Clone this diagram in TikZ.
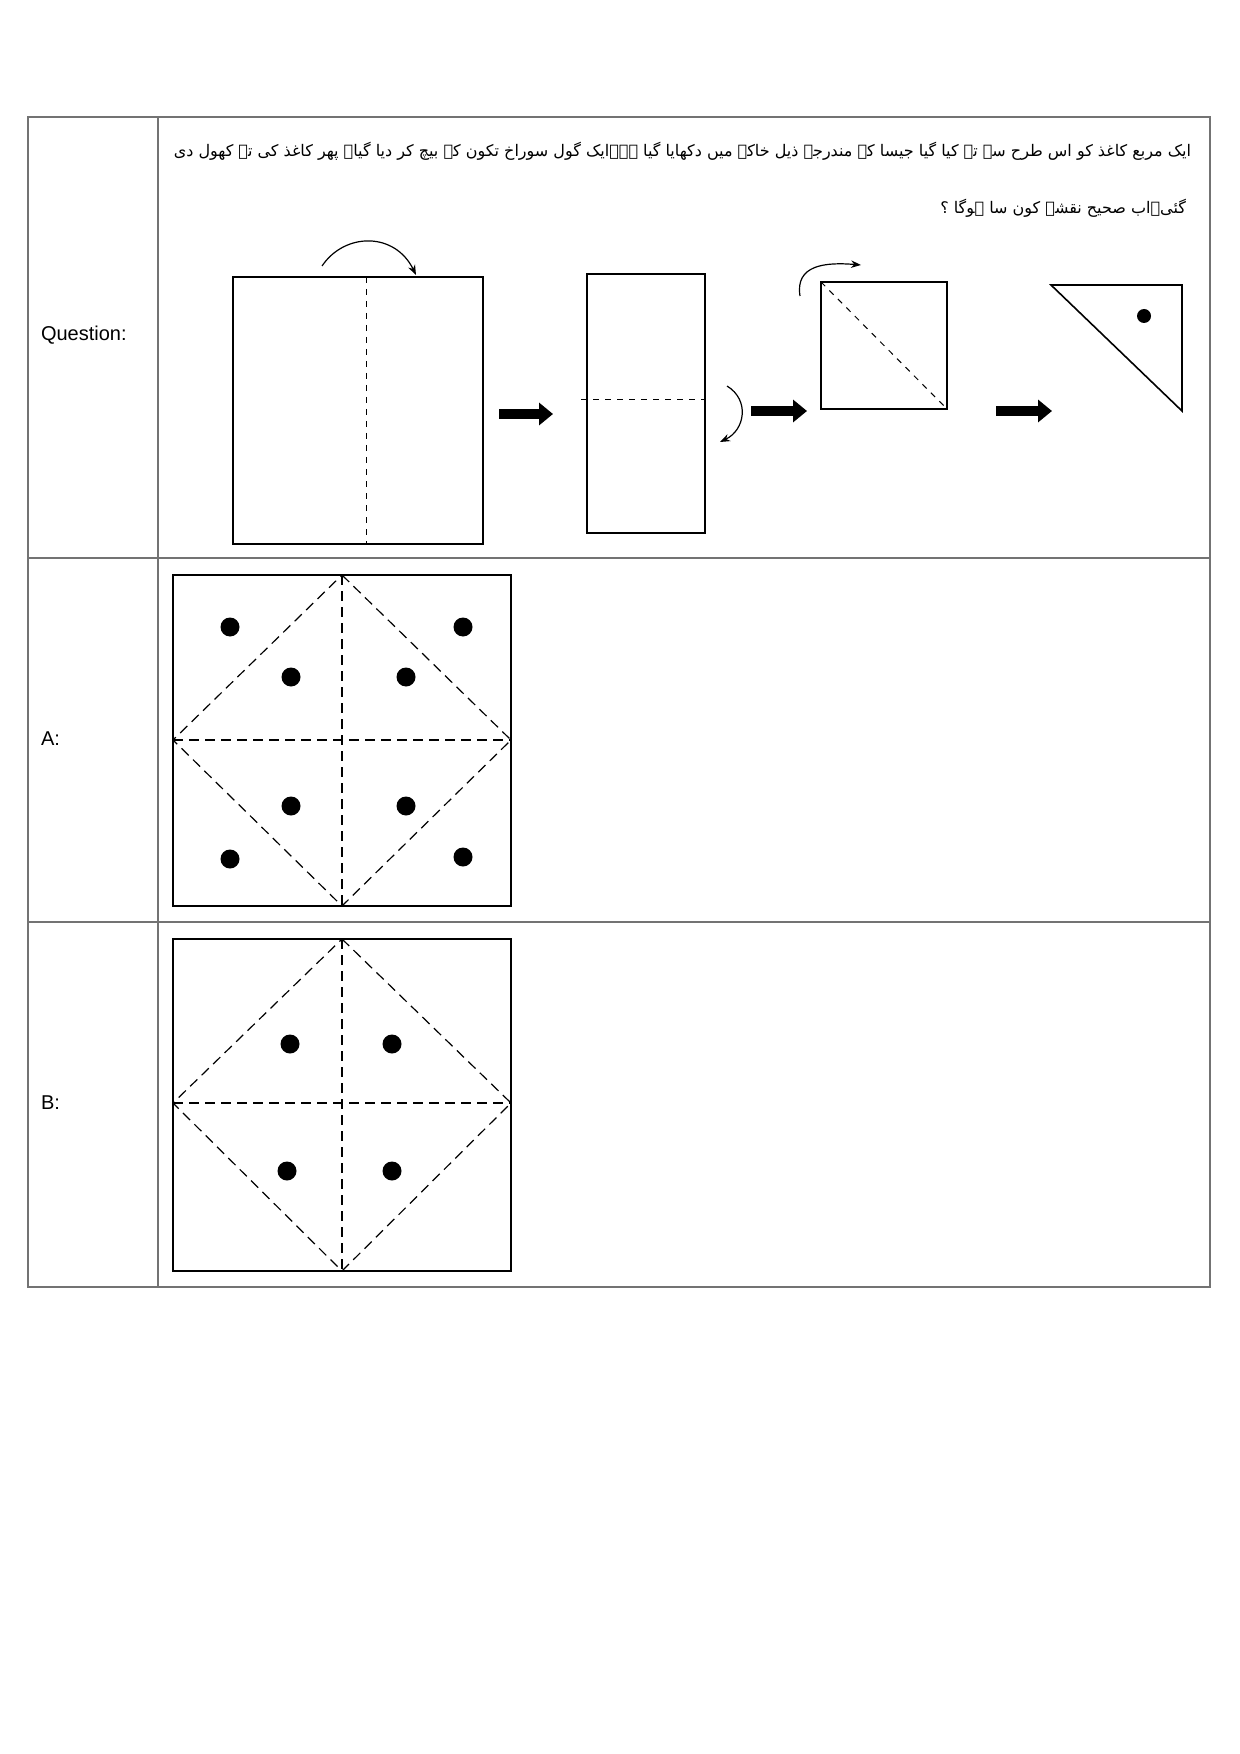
\documentclass[tikz,border=0pt]{standalone}
\usepackage{fontspec}
\setmainfont{Liberation Sans}
\newfontfamily\urdu[Script=Arabic]{DejaVu Sans}
\TeXXeTstate=1
\usetikzlibrary{arrows.meta}
\begin{document}
\begin{tikzpicture}[x=0.5pt,y=-0.5pt,
 grid/.style={draw=black!55,line width=0.6pt},
 fold/.style={dashed,line width=0.5pt},
 bigdash/.style={dash pattern=on 5pt off 3pt,line width=0.9pt},
 thinbox/.style={line width=0.6pt},
 dot/.style={circle,fill=black,inner sep=0pt,minimum size=9.5pt},
 fat/.style={line width=5pt,-{Triangle[length=7pt,width=11pt]}},
 lab/.style={anchor=west,font=\fontsize{10}{12}\selectfont},
 ur/.style={anchor=east,font=\urdu\fontsize{8}{10}\selectfont}]
\useasboundingbox (0,0) rectangle (1240,1754);
% table
\draw[grid] (28,117) rectangle (1210,1287);
\draw[grid] (158,117) -- (158,1287);
\draw[grid] (28,558) -- (1210,558);
\draw[grid] (28,922) -- (1210,922);
\node[lab] (lq) at (34,335) {Question:};
\node[lab] (la) at (34,739) {A:};
\node[lab] (lb) at (34,1103) {B:};
% Urdu text
\node[ur] (t1) at (1198,151) {\beginR ایک  مربع کاغذ کو اس طرح سے تہ کیا گیا جیسا کہ مندرجہ ذیل خاکے میں دکھایا گیا ہے۔ایک گول سوراخ تکون کے بیچ کر دیا گیا۔ پھر کاغذ کی تہ کھول دی\endR};
\node[ur] (t2) at (1193,208) {\beginR گئی۔اب صحیح نقشہ کون سا ہوگا ؟\endR};
% step 1
\draw[thinbox] (233,277) rectangle (483,544);
\draw[fold] (366,277) -- (366,544);
\coordinate (a1s) at (322,266); \coordinate (a1e) at (416,275);
\draw[-{Stealth[length=5pt]},line width=0.6pt] (a1s) .. controls (345,232) and (395,232) .. (a1e);
\coordinate (f1s) at (499,414); \coordinate (f1e) at (553,414);
\draw[fat] (f1s) -- (f1e);
% step 2
\draw[thinbox] (587,274) rectangle (705,533);
\draw[fold] (581,400) -- (705,400);
\coordinate (a2s) at (727,386); \coordinate (a2e) at (720,442);
\draw[-{Stealth[length=5pt]},line width=0.6pt] (a2s) .. controls (750,400) and (745,430) .. (a2e);
\coordinate (f2s) at (751,411); \coordinate (f2e) at (807,411);
\draw[fat] (f2s) -- (f2e);
% step 3
\draw[thinbox] (821,282) rectangle (947,409);
\draw[fold] (821,282) -- (947,409);
\coordinate (a3s) at (800,296); \coordinate (a3e) at (861,265);
\draw[-{Stealth[length=5pt]},line width=0.6pt] (a3s) .. controls (795,265) and (825,262) .. (a3e);
\coordinate (f3s) at (996,411); \coordinate (f3e) at (1052,411);
\draw[fat] (f3s) -- (f3e);
% step 4
\draw[line width=0.8pt] (1051,285) -- (1182,285) -- (1182,411) -- cycle;
\node[dot,minimum size=7pt] (hole) at (1144,316) {};
% option A
\draw[line width=1.2pt] (173,575) rectangle (511,906);
\draw[bigdash] (342,575) -- (342,906) (173,740) -- (511,740);
\draw[bigdash,line width=0.6pt] (342,575) -- (511,740) -- (342,906) -- (173,740) -- cycle;
\foreach \p/\n in {{230,627}/a1,{463,627}/a2,{291,677}/a3,{406,677}/a4,{291,806}/a5,{406,806}/a6,{230,859}/a7,{463,857}/a8}
  \node[dot] (\n) at (\p) {};
% option B
\draw[line width=1.2pt] (173,939) rectangle (511,1271);
\draw[bigdash] (342,939) -- (342,1271) (173,1103) -- (511,1103);
\draw[bigdash,line width=0.6pt] (342,939) -- (511,1103) -- (342,1271) -- (173,1103) -- cycle;
\foreach \p/\n in {{290,1044}/b1,{392,1044}/b2,{287,1171}/b3,{392,1171}/b4}
  \node[dot] (\n) at (\p) {};
\end{tikzpicture}
\end{document}
